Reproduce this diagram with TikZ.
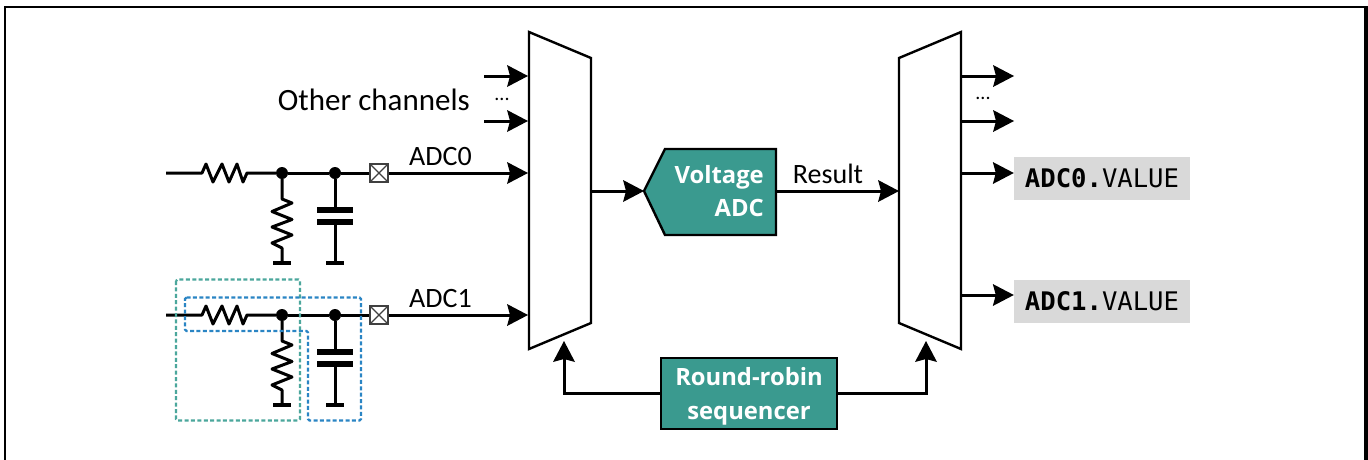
\documentclass[tikz,border=0pt]{standalone}
\usepackage{fontspec}
\setmainfont{Carlito}
\newfontfamily\boxfont{Open Sans}
\newfontfamily\regfont{DejaVu Sans Mono}
\usetikzlibrary{arrows.meta}
\definecolor{tealbox}{HTML}{3A9A8F}
\definecolor{tealdash}{HTML}{4BA79C}
\definecolor{bluedash}{HTML}{2A85C4}
\definecolor{greybox}{HTML}{D9D9D9}
\tikzset{
  wire/.style={line width=3pt,line cap=butt},
  arrowwire/.style={wire,-{Stealth[length=21pt,width=22pt,inset=3pt,line width=0pt]}},
  mux/.style={draw,line width=2.4pt,fill=white,line join=miter},
  tealshape/.style={draw,line width=2.4pt,fill=tealbox},
  boxtext/.style={font=\boxfont\bfseries\fontsize{23.8}{32}\selectfont,text=white,inner sep=0pt},
  lbl/.style={font=\fontsize{28}{32}\selectfont,inner sep=0pt,text=black},
  dotlbl/.style={font=\fontsize{20}{20}\selectfont,inner sep=0pt},
  regbox/.style={fill=greybox,inner sep=0pt,minimum width=176pt,minimum height=43pt,font=\regfont\fontsize{25.6}{30}\selectfont},
  junction/.style={circle,fill=black,inner sep=0pt,minimum size=12pt},
  padbox/.style={draw=black!75,line width=1.2pt,fill=white,inner sep=0pt,minimum size=18pt},
  rail/.style={line width=4.5pt},
  capplate/.style={line width=6pt},
  dashteal/.style={draw=tealdash,line width=2.4pt,dash pattern=on 4pt off 2.4pt,rounded corners=1.5pt},
  dashblue/.style={draw=bluedash,line width=2.4pt,dash pattern=on 4pt off 2.4pt,rounded corners=1.5pt},
}
% #1 = y of the wire
\newcommand{\channelrc}[2]{%
  \coordinate (start#2) at (166,#1);
  \coordinate (hres#2) at (202,#1);
  \coordinate (hresb#2) at (247,#1);
  \node[junction] (ja#2) at (282,#1) {};
  \node[junction] (jb#2) at (335,#1) {};
  \node[padbox] (pad#2) at (379,#1) {};
  \draw[line width=1.1pt,black!75] (pad#2.north west) -- (pad#2.south east) (pad#2.north east) -- (pad#2.south west);
  \draw[wire,line join=round] (start#2) -- (hres#2) -- ++(4,-9) -- ++(7,18) -- ++(9,-18) -- ++(7,18) -- ++(8,-18) -- ++(6,18) -- (hresb#2) -- (ja#2);
  \draw[wire] (ja#2) -- (jb#2);
  \draw[wire] (jb#2) -- (pad#2);
  \draw[wire,line join=round] (ja#2) -- ++(0,26) -- ++(10,4) -- ++(-20,8.5) -- ++(20,8) -- ++(-20,7.5) -- ++(20,8) -- ++(-20,8) -- ++(10,5) -- (282,#1+90) coordinate (gr#2);
  \draw[rail] ([xshift=-9pt]gr#2) -- ([xshift=9pt]gr#2);
  \draw[wire] (jb#2) -- ++(0,37) coordinate (pa#2);
  \draw[capplate] ([xshift=-18pt]pa#2) -- ([xshift=18pt]pa#2);
  \coordinate (pb#2) at ([yshift=-12pt]pa#2);
  \draw[capplate] ([xshift=-18pt]pb#2) -- ([xshift=18pt]pb#2);
  \draw[wire] (pb#2) -- (335,#1+90) coordinate (gc#2);
  \draw[rail] ([xshift=-9pt]gc#2) -- ([xshift=9pt]gc#2);
}
\begin{document}
\begin{tikzpicture}[x=1pt,y=-1pt]
\useasboundingbox (0,0) rectangle (1368,459);
\fill[white] (0,0) rectangle (1368,459);
\draw[line width=2pt] (5,480) -- (5,7) -- (1367,7);
\draw[line width=4pt] (1366,6) -- (1366,480);

% multiplexers
\draw[mux] (529,32) coordinate (mlt) -- (591,58) -- (591,323) -- (529,349) coordinate (mlb) -- cycle;
\draw[mux] (899,58) -- (961,32) -- (961,349) -- (899,323) -- cycle;
\coordinate (inA) at (528,76);
\coordinate (inB) at (528,121);
\coordinate (inC) at (528,173);
\coordinate (inD) at (528,315);
\coordinate (muxout) at (591,191);
\coordinate (muxinR) at (899,191);
\coordinate (selL) at (564,341);
\coordinate (selR) at (926,341);

% ADC + sequencer
\draw[tealshape] (665,149) -- (776,149) -- (776,235) -- (665,235) -- (644,191) -- cycle;
\coordinate (adcin) at (644,191);
\coordinate (adcout) at (776,191);
\node[boxtext,align=right,anchor=east,font=\boxfont\bfseries\fontsize{23.8}{33}\selectfont] (adc) at (764,191) {Voltage\\ADC};
\node[tealshape,inner sep=0pt,minimum width=176pt,minimum height=71pt] (seq) at (749,393.5) {};
\node[boxtext,align=center,font=\boxfont\bfseries\fontsize{23.8}{34}\selectfont] (seqt) at (749,396.5) {Round-robin\\sequencer};

% other channels
\coordinate (oa) at (484,76);
\coordinate (ob) at (484,121);
\draw[arrowwire] (oa) -- (inA);
\draw[arrowwire] (ob) -- (inB);
\node[lbl,anchor=east,font=\fontsize{31}{34}\selectfont] (other) at (470,100) {Other channels};
\node[dotlbl] (dl) at (502,99) {...};

% channels
\channelrc{173}{0}
\channelrc{315}{1}
\draw[arrowwire] (pad0) -- (inC);
\draw[arrowwire] (pad1) -- (inD);
\node[lbl,anchor=base west] (l0) at (409,165) {ADC0};
\node[lbl,anchor=base west] (l1) at (409,307) {ADC1};

% dashed groups
\draw[dashteal] (176,279.5) rectangle (300,420.5);
\draw[dashblue] (185,297.5) -- (361,297.5) -- (361,420.5) -- (308,420.5) -- (308,331) -- (185,331) -- cycle;

% central connections
\draw[arrowwire] (muxout) -- (adcin);
\draw[arrowwire] (adcout) -- (muxinR);
\node[lbl,anchor=base] (res) at (828,183) {Result};
\draw[arrowwire] (seq.west) -| (selL);
\draw[arrowwire] (seq.east) -| (selR);

% outputs
\coordinate (oc) at (961,76);
\coordinate (od) at (961,121);
\coordinate (tc) at (1014,76);
\coordinate (td) at (1014,121);
\draw[arrowwire] (oc) -- (tc);
\draw[arrowwire] (od) -- (td);
\node[dotlbl] (dr) at (983,98) {...};
\node[regbox] (r0) at (1102,178) {\textbf{ADC0.}VALUE};
\node[regbox] (r1) at (1102,301) {\textbf{ADC1.}VALUE};
\draw[arrowwire] (961,173) -- (r0.west |- 0,173);
\draw[arrowwire] (961,295) -- (r1.west |- 0,295);
\end{tikzpicture}
\end{document}
